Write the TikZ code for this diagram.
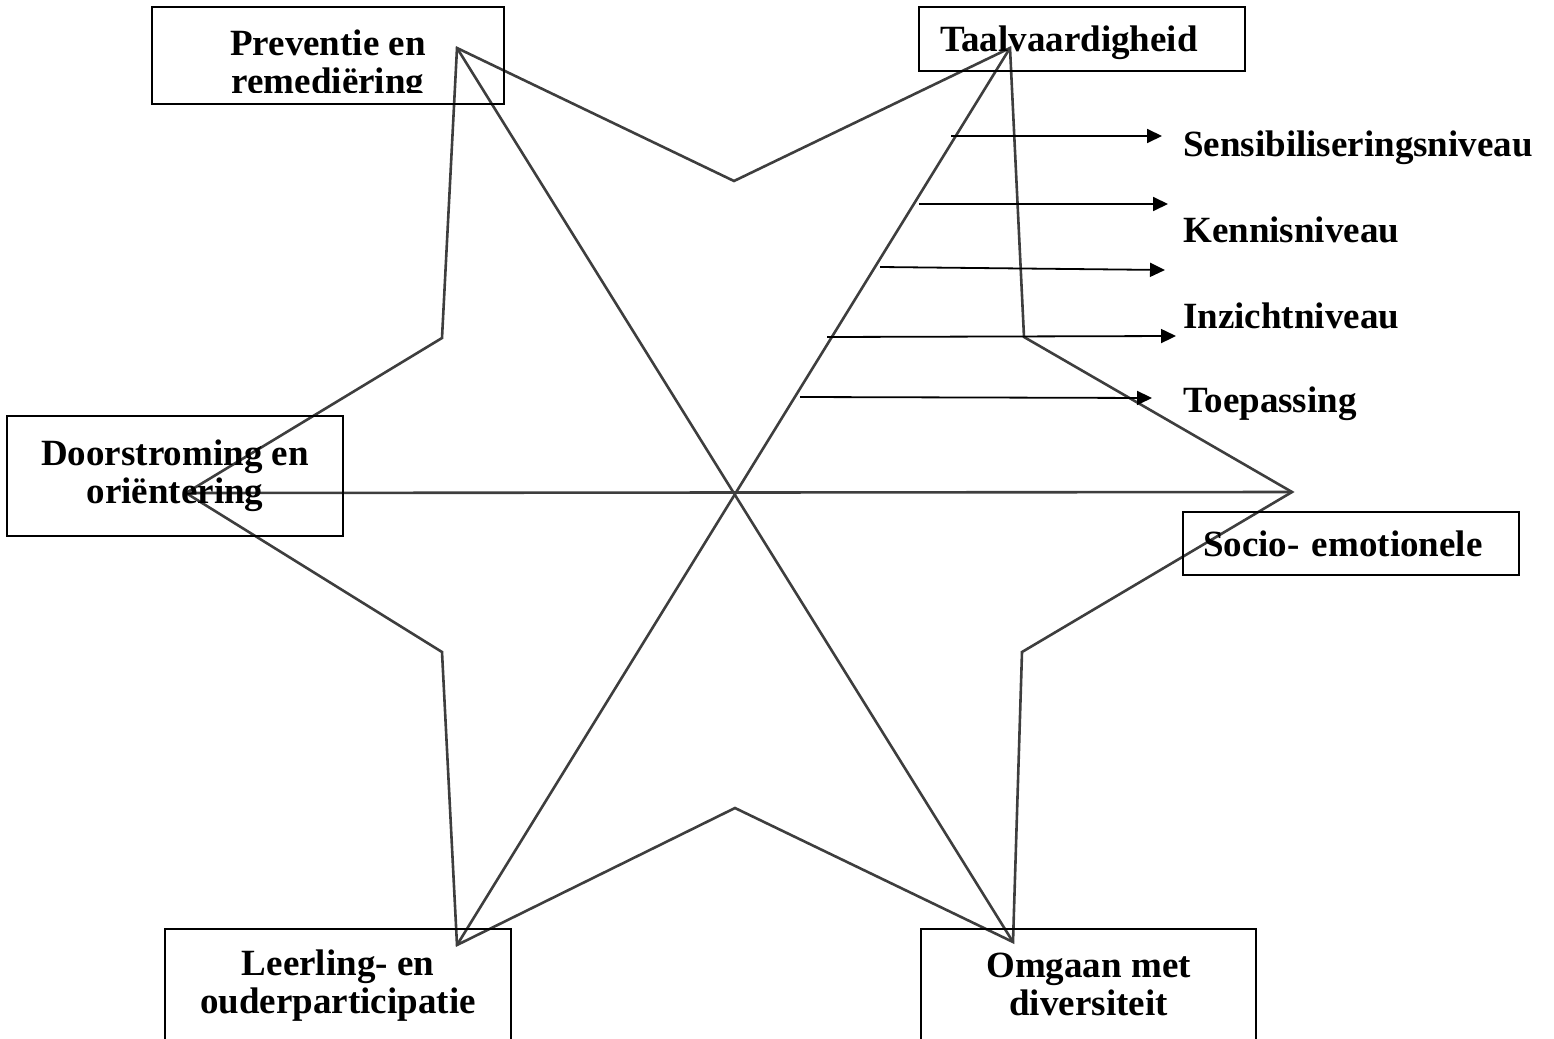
\documentclass[tikz,border=0pt]{standalone}
\usepackage{fontspec}
\setmainfont{Liberation Serif}
\usetikzlibrary{arrows.meta}
\definecolor{stargray}{RGB}{62,62,62}
\tikzset{
  starline/.style={draw=stargray, line width=2.6pt, line join=miter},
  lbl/.style={font=\fontsize{37}{38}\selectfont\bfseries, align=center, inner sep=0pt},
  box/.style={draw, line width=2pt},
  lvl/.style={line width=1.8pt, -{Triangle[length=15pt, width=14pt]}}
}
\begin{document}
\begin{tikzpicture}[x=1pt, y=-1pt]
\useasboundingbox (0,0) rectangle (1554,1038);
\clip (0,0) rectangle (1554,1038);
% tips and inner corners of the star
\path (457,48) coordinate (tl) (1010,48) coordinate (tr) (1292,492) coordinate (r)
      (1013,942) coordinate (br) (457,945) coordinate (bl) (186,493) coordinate (l);
\path (734,181) coordinate (it) (1024,337) coordinate (itr) (1022,652) coordinate (ibr)
      (735,808) coordinate (ib) (442,652) coordinate (ibl) (442,338) coordinate (itl);
\draw [starline] (tl) -- (it) -- (tr) -- (itr) -- (r) -- (ibr) -- (br) -- (ib)
      -- (bl) -- (ibl) -- (l) -- (itl) -- cycle;
\draw [starline] (tl) -- (br);
\draw [starline] (tr) -- (bl);
\draw [starline] (l) -- (r);
% boxes
\node [box, minimum width=352pt, minimum height=97pt] (prev) at (328,55.5) {};
\begin{scope}
\clip (0,0) rectangle (1554,93);
\node [lbl] (prevtext) at (328,65.5) {Preventie en\\remediëring};
\end{scope}
\node [box, lbl, text depth=0pt, text width=284pt, align=left, inner xsep=21pt,
       minimum height=64pt] (taal) at (1082,39) {Taalvaardigheid};
\node [box, lbl, minimum width=336pt, minimum height=120pt] (door) at (175,476)
      {Doorstroming en\\oriëntering};
\node [box, lbl, text depth=0pt, text width=296pt, align=left, inner xsep=20pt,
       minimum height=63pt] (socio) at (1351,543.5) {Socio- emotionele};
\node [box, lbl, minimum width=346pt, minimum height=113pt] (leer) at (338,985.5)
      {Leerling- en\\ouderparticipatie};
\node [box, lbl, minimum width=335pt, minimum height=112pt] (omg) at (1088.5,984.5)
      {Omgaan met\\diversiteit};
% levels
\path (951,136) coordinate (s1) (1162,136) coordinate (e1)
      (919,204) coordinate (s2) (1168,204) coordinate (e2)
      (880,267) coordinate (s3) (1165,270) coordinate (e3)
      (827,337) coordinate (s4) (1176,336) coordinate (e4)
      (800,397) coordinate (s5) (1152,398) coordinate (e5);
\foreach \i in {1,...,5} \draw [lvl] (s\i) -- (e\i);
\node [lbl, anchor=base west] (sens) at (1183,157) {Sensibiliseringsniveau};
\node [lbl, anchor=base west] (kennis) at (1183,242) {Kennisniveau};
\node [lbl, anchor=base west] (inzicht) at (1183,328) {Inzichtniveau};
\node [lbl, anchor=base west] (toep) at (1183,412) {Toepassing};
\end{tikzpicture}
\end{document}
